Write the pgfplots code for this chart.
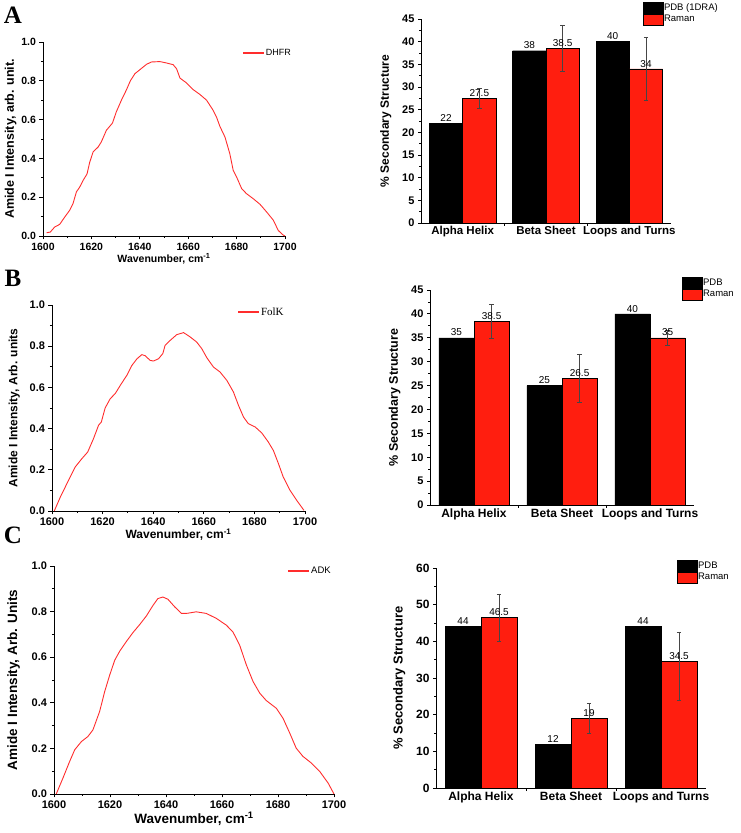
\documentclass[border=0pt]{standalone}
\usepackage{pgfplots}
\pgfplotsset{compat=1.18}
\usepackage{fontspec}
\setmainfont{Liberation Sans}
\newfontfamily\panelfont{Liberation Serif}

\definecolor{specred}{RGB}{255,45,45}
\definecolor{barred}{RGB}{255,30,15}
\definecolor{errgray}{RGB}{70,70,70}

\pgfplotsset{
  common/.style={
    scale only axis, anchor=south west, clip=false,
    axis lines*=left, axis line style={-, line width=0.9pt},
    tick align=outside, major tick length=3.5pt, minor tick length=2pt,
    every tick/.style={black, line width=0.8pt},
    /pgf/number format/assume math mode=true,
  },
  spec/.style={
    common,
    xmin=1600, xmax=1700, ymin=0, ymax=1,
    xtick={1600,1620,1640,1660,1680,1700},
    ytick={0,0.2,0.4,0.6,0.8,1.0},
    minor x tick num=1, minor y tick num=1,
    x tick label style={/pgf/number format/1000 sep={}},
    y tick label style={/pgf/number format/fixed, /pgf/number format/fixed zerofill, /pgf/number format/precision=1},
    legend style={draw=none, fill=none, inner sep=0pt},
    legend cell align=left,
    legend image code/.code={\fill[fill=specred] (0pt,-0.5pt) rectangle (20pt,0.5pt);},
  },
  bars/.style={
    common,
    xmin=0.5, xmax=3.5, ymin=0,
    xtick={1.5,2.5}, xticklabels={},
    major tick length=3pt,
    extra x ticks={1,2,3},
    extra x tick labels={Alpha Helix,Beta Sheet,Loops and Turns},
    extra x tick style={major tick length=0pt},
    minor y tick num=1,
    nodes near coords style={font=\fontsize{10}{10}\selectfont, black, inner sep=1.5pt},
    legend style={draw=none, fill=none, inner sep=0pt, row sep=0pt,
      nodes={inner sep=0.4pt}, font=\fontsize{9.5}{10}\selectfont},
    legend cell align=left,
    legend image code/.code={\draw[##1, draw=black, line width=0.4pt] (0pt,-5.5pt) rectangle (20pt,5.5pt);},
  },
  pdbbar/.style={ybar, bar width=0.4, bar shift=0pt, fill=black, draw=black, nodes near coords},
  ramanbar/.style={ybar, bar width=0.4, bar shift=0pt, fill=barred, draw=black, line width=0.4pt,
    nodes near coords},
  errs/.style={forget plot, draw=none, mark=none,
    error bars/.cd, y dir=both, y explicit,
    error bar style={draw=errgray, line width=0.7pt},
    error mark=-,
    error mark options={rotate=90, draw=errgray, mark size=2.2pt, line width=0.7pt}},
}

\begin{document}
\begin{tikzpicture}[x=1pt,y=1pt]
\path[use as bounding box] (0,0) rectangle (740,833);

% panel letters
\node[font=\panelfont\bfseries\fontsize{25}{25}\selectfont] at (13,818) {A};
\node[font=\panelfont\bfseries\fontsize{25}{25}\selectfont] at (13,555) {B};
\node[font=\panelfont\bfseries\fontsize{25}{25}\selectfont] at (13,298) {C};

% ---------------- A: DHFR spectrum ----------------
\begin{axis}[spec, at={(43pt,597pt)}, width=242pt, height=194pt,
  tick label style={font=\bfseries\fontsize{10.5}{11}\selectfont},
  xlabel={Wavenumber, cm\textsuperscript{-1}},
  ylabel={Amide I Intensity, arb. unit.},
  xlabel style={font=\bfseries\fontsize{10.5}{11}\selectfont, yshift=4pt},
  ylabel style={font=\bfseries\fontsize{12.5}{13}\selectfont, yshift=-2pt},
  legend style={at={(rel axis cs:0.826,0.943)}, anchor=west, font=\fontsize{9}{9}\selectfont}]
\addplot[specred, line width=0.9pt] coordinates {
(1601.5,0.017)(1603,0.02)(1604.8,0.046)(1606.9,0.06)(1609,0.098)(1611,0.132)
(1612.4,0.167)(1613.8,0.227)(1615.2,0.253)(1616.6,0.287)(1618.2,0.32)(1619.3,0.38)
(1620.7,0.433)(1622.8,0.459)(1624.1,0.485)(1626.2,0.545)(1628.7,0.582)(1630.3,0.64)
(1632.4,0.70)(1634.5,0.754)(1636.1,0.80)(1638,0.837)(1640,0.857)(1642.8,0.885)
(1644.8,0.897)(1648.3,0.899)(1651,0.892)(1653.8,0.883)(1655.2,0.862)(1656.6,0.814)
(1659.3,0.789)(1662.1,0.754)(1664.8,0.73)(1667.6,0.70)(1670.3,0.648)(1671.7,0.613)
(1673.1,0.565)(1675.2,0.51)(1677.2,0.424)(1678.6,0.338)(1680,0.304)(1682.1,0.244)
(1684.1,0.218)(1686.9,0.192)(1689.7,0.163)(1692.4,0.124)(1695.2,0.081)(1697.2,0.029)
(1699,0.007)(1700,0.0)};
\addlegendentry{DHFR}
\end{axis}

% ---------------- A: secondary structure ----------------
\begin{axis}[bars, at={(421pt,610pt)}, width=250pt, height=204pt,
  ymax=45, ytick={0,5,...,45},
  y tick label style={font=\bfseries\fontsize{11}{11}\selectfont},
  x tick label style={font=\bfseries\fontsize{11.5}{12}\selectfont},
  ylabel={\% Secondary Structure},
  ylabel style={font=\bfseries\fontsize{12}{12}\selectfont, yshift=4pt},
  legend style={at={(rel axis cs:0.888,1.083)}, anchor=north west}]
\addplot[pdbbar] coordinates {(0.8,22) (1.8,38) (2.8,40)};
\addlegendentry{PDB (1DRA)}
\addplot[ramanbar] coordinates {(1.2,27.5) (2.2,38.5) (3.2,34)};
\addlegendentry{Raman}
\addplot[errs] coordinates {
  (1.2,27.5) +- (0,2.2)
  (2.2,38.5) +- (0,5)
  (3.2,34) +- (0,7)};
\end{axis}

% ---------------- B: FolK spectrum ----------------
\begin{axis}[spec, at={(52pt,322pt)}, width=253pt, height=206pt,
  tick label style={font=\bfseries\fontsize{11}{11}\selectfont},
  xlabel={Wavenumber, cm\textsuperscript{-1}},
  ylabel={Amide I Intensity, Arb. units},
  xlabel style={font=\bfseries\fontsize{12}{12}\selectfont, yshift=4pt},
  ylabel style={font=\bfseries\fontsize{12}{12}\selectfont, yshift=3pt},
  legend style={at={(rel axis cs:0.735,0.966)}, anchor=west, font=\panelfont\fontsize{11}{11}\selectfont}]
\addplot[specred, line width=0.9pt] coordinates {
(1600.9,0)(1603.3,0.068)(1605.9,0.133)(1609.2,0.214)(1611.8,0.254)(1614.1,0.286)
(1616.4,0.351)(1618.4,0.416)(1619.5,0.432)(1621,0.50)(1623,0.545)(1625,0.57)
(1627,0.61)(1629.6,0.659)(1631.6,0.707)(1633.6,0.739)(1635.5,0.759)(1636.8,0.754)
(1638.8,0.731)(1640.1,0.728)(1642.1,0.739)(1643.8,0.764)(1644.7,0.804)(1646.7,0.828)
(1649.3,0.856)(1652,0.866)(1654.6,0.845)(1657.2,0.82)(1659.2,0.788)(1661.2,0.744)
(1663.8,0.699)(1666.4,0.675)(1669.1,0.634)(1671.7,0.578)(1673.7,0.513)(1675.7,0.456)
(1677.6,0.424)(1680.3,0.408)(1682.9,0.379)(1685.5,0.335)(1687.5,0.294)(1689.5,0.23)
(1691.4,0.165)(1694.1,0.10)(1696.7,0.052)(1699.6,0.003)};
\addlegendentry{FolK}
\end{axis}

% ---------------- B: secondary structure ----------------
\begin{axis}[bars, at={(430pt,328pt)}, width=264pt, height=215pt,
  ymax=45, ytick={0,5,...,45},
  y tick label style={font=\bfseries\fontsize{11}{11}\selectfont},
  x tick label style={font=\bfseries\fontsize{12}{12}\selectfont},
  ylabel={\% Secondary Structure},
  ylabel style={font=\bfseries\fontsize{12.5}{12.5}\selectfont, yshift=4pt},
  legend style={at={(rel axis cs:0.955,1.06)}, anchor=north west}]
\addplot[pdbbar] coordinates {(0.8,35) (1.8,25) (2.8,40)};
\addlegendentry{PDB}
\addplot[ramanbar] coordinates {(1.2,38.5) (2.2,26.5) (3.2,35)};
\addlegendentry{Raman}
\addplot[errs] coordinates {
  (1.2,38.5) +- (0,3.6)
  (2.2,26.5) +- (0,5)
  (3.2,35) +- (0,1.5)};
\end{axis}

% ---------------- C: ADK spectrum ----------------
\begin{axis}[spec, at={(54pt,39pt)}, width=280pt, height=228pt,
  tick label style={font=\bfseries\fontsize{11}{11}\selectfont},
  xlabel={Wavenumber, cm\textsuperscript{-1}},
  ylabel={Amide I Intensity, Arb. Units},
  xlabel style={font=\bfseries\fontsize{13.5}{13.5}\selectfont, yshift=4pt},
  ylabel style={font=\bfseries\fontsize{13.5}{13.5}\selectfont, yshift=5pt},
  legend style={at={(rel axis cs:0.836,0.978)}, anchor=west, font=\fontsize{9.5}{9.5}\selectfont}]
\addplot[specred, line width=0.9pt] coordinates {
(1600.8,0)(1603.2,0.07)(1605.6,0.143)(1607.4,0.194)(1609.8,0.23)(1612.1,0.252)
(1613.9,0.281)(1616.3,0.362)(1618.1,0.449)(1619.9,0.522)(1621.7,0.587)(1623.5,0.627)
(1625.8,0.668)(1628.2,0.708)(1630.6,0.743)(1633,0.781)(1635.4,0.828)(1637.1,0.857)
(1638.9,0.864)(1640.7,0.854)(1643.1,0.821)(1645.5,0.792)(1647.3,0.792)(1650.8,0.799)
(1654.4,0.792)(1658,0.77)(1661.5,0.741)(1663.9,0.711)(1666.3,0.653)(1668.7,0.566)
(1671.1,0.493)(1673.5,0.442)(1675.8,0.41)(1679.4,0.376)(1681.8,0.332)(1684.2,0.267)
(1686.5,0.201)(1688.9,0.165)(1691.9,0.136)(1694.9,0.099)(1697.9,0.048)(1700,0)};
\addlegendentry{ADK}
\end{axis}

% ---------------- C: secondary structure ----------------
\begin{axis}[bars, at={(436pt,45pt)}, width=270pt, height=220pt,
  ymax=60, ytick={0,10,...,60},
  y tick label style={font=\bfseries\fontsize{12}{12}\selectfont},
  x tick label style={font=\bfseries\fontsize{12}{12}\selectfont},
  ylabel={\% Secondary Structure},
  ylabel style={font=\bfseries\fontsize{13}{13}\selectfont, yshift=4pt},
  legend style={at={(rel axis cs:0.893,1.036)}, anchor=north west}]
\addplot[pdbbar] coordinates {(0.8,44) (1.8,12) (2.8,44)};
\addlegendentry{PDB}
\addplot[ramanbar] coordinates {(1.2,46.5) (2.2,19) (3.2,34.5)};
\addlegendentry{Raman}
\addplot[errs] coordinates {
  (1.2,46.5) +- (0,6.4)
  (2.2,19) +- (0,4.2)
  (3.2,34.5) += (0,8) -= (0,10.7)};
\end{axis}
\end{tikzpicture}
\end{document}
